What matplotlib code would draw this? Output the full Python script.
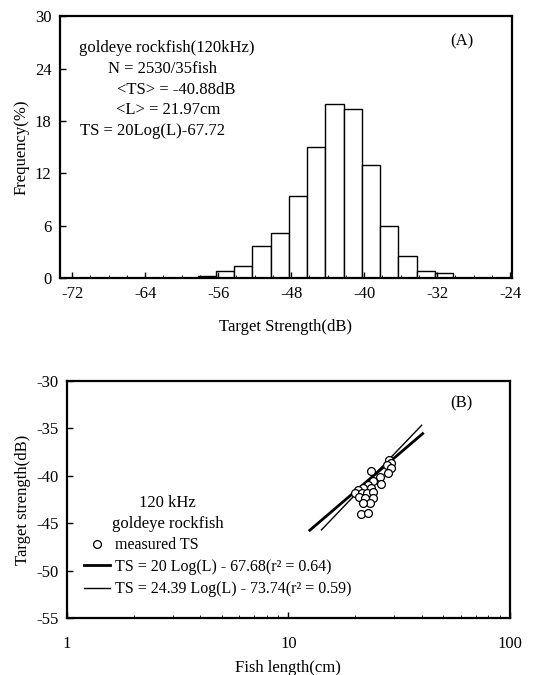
import numpy as np
import matplotlib.pyplot as plt
from matplotlib.ticker import LogLocator, NullFormatter, FixedLocator

plt.rcParams['font.family'] = ['Liberation Serif', 'DejaVu Serif']
plt.rcParams['font.size'] = 12
plt.rcParams['axes.unicode_minus'] = False

# panel A: TS histogram (2 dB bins)
bin_left = [-58.25, -56.25, -54.25, -52.25, -50.25, -48.25, -46.25, -44.25,
            -42.25, -40.25, -38.25, -36.25, -34.25, -32.25]
freq = [0.25, 0.8, 1.4, 3.7, 5.2, 9.45, 15.0, 19.9,
        19.4, 13.0, 6.0, 2.5, 0.8, 0.55]

# panel B: measured TS vs fish length
length_cm = [23.6, 28.5, 29.2, 27.9, 29.0, 28.2, 26.0, 26.1, 24.2, 22.9,
             23.7, 21.8, 20.6, 20.0, 21.5, 22.6, 24.2, 20.9, 22.2, 24.2,
             23.4, 21.8, 21.2, 22.9]
ts_db = [-39.5, -38.3, -38.7, -38.9, -39.2, -39.7, -40.1, -40.9, -40.6, -41.0,
         -41.3, -41.3, -41.5, -41.85, -41.85, -41.85, -41.7, -42.2, -42.3, -42.3,
         -42.9, -42.9, -44.0, -43.9]
fit1 = (20.0, -67.68, 12.5, 40.4)     # slope, intercept, Lmin, Lmax
fit2 = (24.39, -73.74, 14.1, 40.0)

fig = plt.figure(figsize=(5.35, 6.75), dpi=100)

# ---- (A) ----
ax = fig.add_axes([0.112, 0.588, 0.845, 0.388])
ax.bar(np.array(bin_left) + 1.0, freq, width=2.0, facecolor='white',
       edgecolor='black', linewidth=1.0)
ax.set_xlim(-73.35, -23.8)
ax.set_ylim(0, 30)
ax.set_xticks([-72, -64, -56, -48, -40, -32, -24])
ax.set_yticks([0, 6, 12, 18, 24, 30])
ax.xaxis.set_minor_locator(FixedLocator(np.arange(-72, -23, 2)))
ax.tick_params(direction='in', length=4, width=1, pad=6)
ax.tick_params(which='minor', direction='in', length=2)
ax.set_xlabel('Target Strength(dB)', labelpad=12)
ax.set_ylabel('Frequency(%)', labelpad=4)
for s in ax.spines.values():
    s.set_linewidth(1.6)

lines_a = [('goldeye rockfish(120kHz)', 0.042),
           ('N = 2530/35fish', 0.106),
           ('<TS> = -40.88dB', 0.127),
           ('<L> = 21.97cm', 0.125),
           ('TS = 20Log(L)-67.72', 0.044)]
for i, (t, x) in enumerate(lines_a):
    ax.text(x, 0.877 - i * 0.079, t, transform=ax.transAxes,
            va='center', ha='left')
ax.text(0.89, 0.905, '(A)', transform=ax.transAxes,
        ha='center', va='center')

# ---- (B) ----
bx = fig.add_axes([0.125, 0.0844, 0.828, 0.3512])
bx.set_xscale('log')
bx.scatter(length_cm, ts_db, s=32, facecolors='white', edgecolors='black',
           linewidths=0.9, zorder=3, label='measured TS')
for (a, b, l0, l1), lw, lab in [(fit1, 2.0, 'TS = 20 Log(L) - 67.68(r² = 0.64)'),
                                (fit2, 1.0, 'TS = 24.39 Log(L) - 73.74(r² = 0.59)')]:
    L = np.array([l0, l1])
    bx.plot(L, a * np.log10(L) + b, color='black', lw=lw, label=lab, zorder=2)
bx.set_xlim(1, 100)
bx.set_ylim(-55, -30)
bx.set_xticks([1, 10, 100])
bx.set_xticklabels(['1', '10', '100'])
bx.set_yticks([-55, -50, -45, -40, -35, -30])
bx.xaxis.set_minor_locator(LogLocator(base=10, subs=np.arange(2, 10)))
bx.xaxis.set_minor_formatter(NullFormatter())
bx.tick_params(direction='in', length=4, width=1, pad=6)
bx.tick_params(axis='x', which='major', pad=13)
bx.tick_params(which='minor', direction='in', length=2)
bx.set_xlabel('Fish length(cm)', labelpad=6)
bx.set_ylabel('Target strength(dB)', labelpad=4)
for s in bx.spines.values():
    s.set_linewidth(1.6)
bx.text(0.89, 0.905, '(B)', transform=bx.transAxes,
        ha='center', va='center')
bx.text(0.228, 0.44, '120 kHz\ngoldeye rockfish', transform=bx.transAxes,
        ha='center', va='center', linespacing=1.45)
bx.legend(loc='lower left', bbox_to_anchor=(0.025, 0.06), frameon=False,
          fontsize=11.5, handlelength=1.6, handletextpad=0.35,
          labelspacing=0.4, borderaxespad=0)

fig.savefig('out.png', dpi=100)
